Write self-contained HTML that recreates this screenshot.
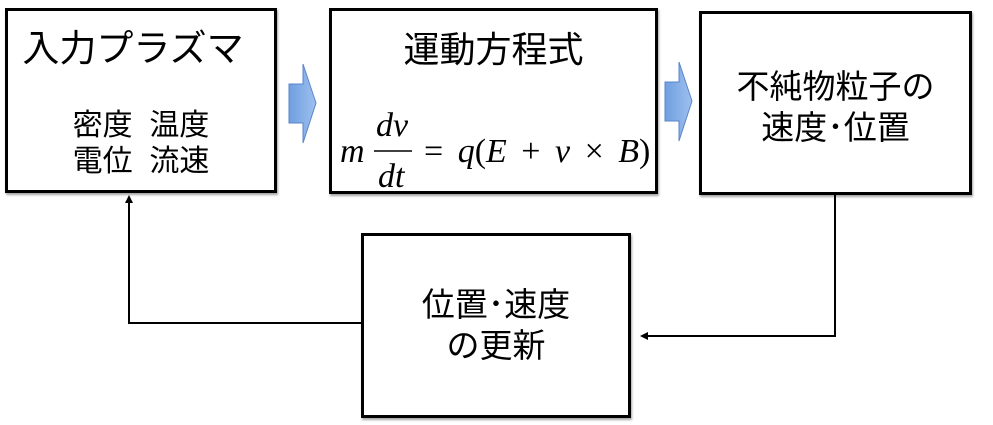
<!DOCTYPE html>
<html><head><meta charset="utf-8"><style>
body{margin:0;width:993px;height:425px;background:#fff;position:relative;overflow:hidden;font-family:"Liberation Sans","Noto Sans CJK JP",sans-serif;color:#000}
.b{position:absolute;border:3px solid #000;box-sizing:border-box;box-shadow:1px 2px 2px rgba(0,0,0,.35);background:#fff}
.t{position:absolute;white-space:nowrap;text-align:center}
</style></head><body>
<div class="b" style="left:5px;top:8px;width:272px;height:185px"></div>
<div class="b" style="left:329px;top:8px;width:329px;height:186px"></div>
<div class="b" style="left:699px;top:11px;width:273px;height:184px"></div>
<div class="b" style="left:361px;top:233px;width:270px;height:185px"></div>

<div class="t" style="left:20px;top:26px;width:226px;font-size:37px;line-height:46px">入力プラズマ</div>
<div class="t" style="left:5px;top:108px;width:272px;font-size:30px;line-height:36px">密度&nbsp;&nbsp;温度<br>電位&nbsp;&nbsp;流速</div>
<div class="t" style="left:329px;top:27px;width:329px;font-size:36px;line-height:46px">運動方程式</div>
<div class="t" style="left:699px;top:66px;width:273px;font-size:33px;line-height:41px">不純物粒子の<br>速度･位置</div>
<div class="t" style="left:361px;top:284px;width:270px;font-size:33px;line-height:41px">位置･速度<br>の更新</div>

<svg width="993" height="425" style="position:absolute;left:0;top:0">
<defs><linearGradient id="g" x1="0" x2="1"><stop offset="0" stop-color="#6f9fe0"/><stop offset="1" stop-color="#9ec0f0"/></linearGradient></defs>
<polygon points="289,84 303,84 303,64 316,103 303,143 303,123 289,123" fill="url(#g)" stroke="#5a86c8" stroke-width="1"/>
<polygon points="665,82 679,82 679,62 692,101 679,141 679,121 665,121" fill="url(#g)" stroke="#5a86c8" stroke-width="1"/>
<polyline points="835,195 835,336 645,336" fill="none" stroke="#000" stroke-width="2"/>
<polygon points="640,336 648,332 648,340" fill="#000"/>
<polyline points="361,323 129,323 129,201" fill="none" stroke="#000" stroke-width="2"/>
<polygon points="129,195 125,203 133,203" fill="#000"/>
<g font-family="Liberation Serif,serif" font-style="italic" font-size="34">
<text x="340" y="162">m</text>
<text x="376" y="136">dv</text>
<text x="378" y="187">dt</text>
<text x="424" y="162" font-style="normal" word-spacing="6">= <tspan font-style="italic">q</tspan>(<tspan font-style="italic">E</tspan> + <tspan font-style="italic">v</tspan> × <tspan font-style="italic">B</tspan>)</text>
</g>
<line x1="374" y1="151" x2="412" y2="151" stroke="#000" stroke-width="1.5"/>
</svg>
</body></html>
